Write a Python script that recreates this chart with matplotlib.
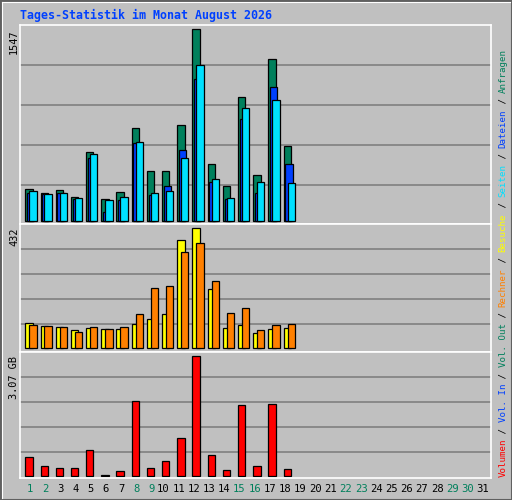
import matplotlib
matplotlib.use("Agg")
import matplotlib.pyplot as plt
import numpy as np

days = list(range(1, 32))
hits  = [256,223,248,191,554,175,231,748,401,401,772,1547,457,280,998,369,1305,603]
files = [229,215,229,178,506,73,170,632,210,280,570,1143,315,175,823,223,1079,457]
pages = [239,215,223,183,538,167,191,635,223,239,506,1256,336,183,909,312,974,304]
visits = [90,79,76,65,72,68,68,86,104,122,389,432,212,72,83,54,68,72]
sites  = [83,79,76,58,76,68,76,122,216,223,346,378,241,126,144,65,83,86]
volume = [0.47,0.24,0.19,0.21,0.65,0.03,0.11,1.91,0.21,0.37,0.96,3.07,0.52,0.14,1.81,0.24,1.84,0.16]
weekend = [1,2,8,9,15,16,22,23,29,30]
title = "Tages-Statistik im Monat August 2026"

W, H = 512, 500
BG = "#c0c0c0"
GREEN = "#00805c"; BLUE = "#0040ff"; CYAN = "#00e0ff"
YELLOW = "#ffff00"; ORANGE = "#ff8000"; RED = "#ff0000"
MONO = "DejaVu Sans Mono"

fig = plt.figure(figsize=(W/100, H/100), dpi=100, facecolor=BG)

def ax_px(x0, y0, x1, y1):
    return fig.add_axes([x0/W, 1-y1/H, (x1-x0)/W, (y1-y0)/H])

L, R = 20, 491
panels = [(25, 224), (224, 352), (352, 478)]
grids = [[40,80,120,160], [25,50,75,100], [25,50,75,100]]
axes = []
for (t, b), g in zip(panels, grids):
    ax = ax_px(L, t, R, b)
    ax.set_facecolor(BG)
    ax.set_xlim(0, 31)
    ax.set_xticks([]); ax.set_yticks([])
    for s in ax.spines.values():
        s.set_color("white"); s.set_linewidth(1.2)
    for gy in g:
        ax.plot([0, 1], [1-gy/(b-t)]*2, color="#808080", lw=1.2, transform=ax.transAxes, zorder=0)
    axes.append(ax)

x = np.arange(len(hits))
bw = 0.48
ek = dict(edgecolor="black", linewidth=0.9, align="edge", zorder=2)

s = 1547/192
axes[0].set_ylim(-3*s, 1547+4*s)
axes[0].bar(x+0.35, hits, bw, color=GREEN, **ek)
axes[0].bar(x+0.46, files, bw, color=BLUE, **ek)
axes[0].bar(x+0.61, pages, bw, color=CYAN, **ek)

s = 432/120
axes[1].set_ylim(-4*s, 432+4*s)
axes[1].bar(x+0.35, visits, bw, color=YELLOW, **ek)
axes[1].bar(x+0.61, sites, bw, color=ORANGE, **ek)

s = 3.07/119.4
axes[2].set_ylim(-2.3*s, 3.07+4.3*s)
axes[2].bar(x+0.35, volume, bw, color=RED, **ek)

for d in days:
    xp = (L + (d-1+0.87)*(R-L)/31)/W
    fig.text(xp, 1-489/H, str(d), ha="right", va="center", family=MONO,
             fontsize=7.6, color=GREEN if d in weekend else "black")

fig.text(20/W, 1-15/H, title, ha="left", va="center", family=MONO,
         fontsize=8.4, fontweight="bold", color=BLUE)

for lab, top in [("1547", 29), ("432", 228), ("3.07 GB", 356)]:
    fig.text(14/W, 1-top/H, lab, rotation=90, ha="center", va="top",
             family=MONO, fontsize=7.4, color="black")

parts = [("Volumen", RED), (" / ", "black"), ("Vol. In", BLUE), (" / ", "black"),
         ("Vol. Out", GREEN), (" / ", "black"), ("Rechner", ORANGE), (" / ", "black"),
         ("Besuche", YELLOW), (" / ", "black"), ("Seiten", CYAN), (" / ", "black"),
         ("Dateien", BLUE), (" / ", "black"), ("Anfragen", GREEN)]
adv = 5.49
ypos = 477
for txt, col in parts:
    fig.text(503/W, 1-ypos/H, txt, rotation=90, ha="center", va="bottom",
             family=MONO, fontsize=6.55, color=col)
    ypos -= adv*len(txt)

bax = fig.add_axes([0, 0, 1, 1], facecolor="none")
bax.set_xlim(0, W); bax.set_ylim(H, 0); bax.axis("off")
bax.plot([0.5, W-0.5, W-0.5, 0.5, 0.5], [0.5, 0.5, H-0.5, H-0.5, 0.5], color="#606060", lw=1.5)
bax.plot([2, W-2], [2, 2], color="white", lw=0.8)
bax.plot([2, 2], [2, H-2], color="white", lw=0.8)

fig.savefig("out.png", dpi=100, facecolor=BG)
